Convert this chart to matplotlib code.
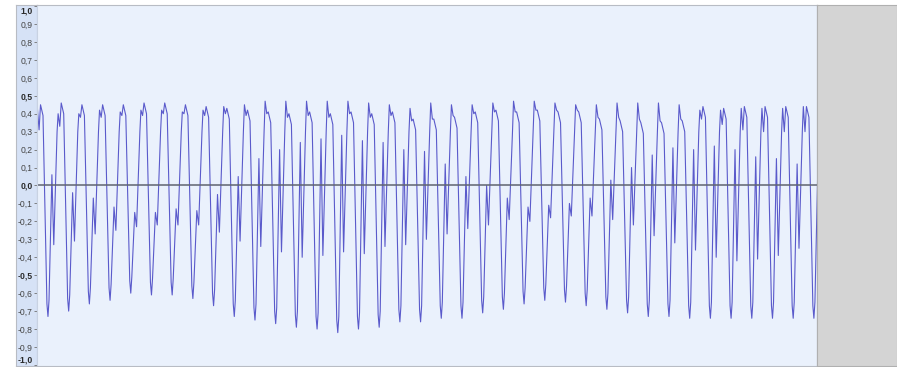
import numpy as np
import matplotlib
matplotlib.use("Agg")
import matplotlib.pyplot as plt
from matplotlib.ticker import FixedLocator, FuncFormatter

# per-cycle levels (one cycle ~ 20.7 px)
hump_a = [0.43, 0.40, 0.40, 0.42, 0.41, 0.42, 0.42, 0.41, 0.42, 0.44,
          0.45, 0.47, 0.47, 0.47, 0.47, 0.47, 0.46, 0.45, 0.43, 0.46,
          0.45, 0.45, 0.46, 0.47, 0.47, 0.46, 0.45, 0.45, 0.46, 0.46,
          0.46, 0.45, 0.42, 0.42, 0.43, 0.43, 0.43, 0.44]
notch = [0.31, 0.33, 0.38, 0.38, 0.39, 0.39, 0.40, 0.40, 0.39, 0.40,
         0.39, 0.40, 0.38, 0.39, 0.38, 0.40, 0.38, 0.39, 0.36, 0.37,
         0.39, 0.40, 0.41, 0.41, 0.42, 0.42, 0.42, 0.38, 0.38, 0.37,
         0.36, 0.37, 0.37, 0.34, 0.31, 0.30, 0.30, 0.30]
hump_b = [0.45, 0.46, 0.45, 0.45, 0.45, 0.46, 0.46, 0.45, 0.44, 0.43,
          0.42, 0.41, 0.40, 0.41, 0.40, 0.41, 0.40, 0.41, 0.37, 0.37,
          0.38, 0.41, 0.42, 0.41, 0.42, 0.41, 0.41, 0.37, 0.36, 0.35,
          0.35, 0.36, 0.44, 0.43, 0.44, 0.44, 0.44, 0.44]
troughs = [-0.73, -0.70, -0.66, -0.64, -0.60, -0.61, -0.61, -0.63, -0.67, -0.73,
           -0.75, -0.77, -0.79, -0.80, -0.82, -0.80, -0.79, -0.76, -0.76, -0.74,
           -0.74, -0.71, -0.69, -0.66, -0.64, -0.65, -0.67, -0.69, -0.71, -0.73,
           -0.73, -0.74, -0.74, -0.74, -0.74, -0.74, -0.74, -0.74]
bumps = [0.06, -0.04, -0.07, -0.12, -0.15, -0.15, -0.13, -0.14, -0.05, 0.05,
         0.15, 0.20, 0.24, 0.26, 0.28, 0.25, 0.24, 0.20, 0.19, 0.12,
         0.05, 0.00, -0.07, -0.12, -0.11, -0.10, -0.07, 0.03, 0.10, 0.17,
         0.21, 0.20, 0.22, 0.20, 0.16, 0.15, 0.12, 0.10]
dips = [-0.33, -0.31, -0.27, -0.25, -0.23, -0.22, -0.22, -0.22, -0.26, -0.31,
        -0.34, -0.37, -0.40, -0.39, -0.37, -0.38, -0.34, -0.33, -0.30, -0.27,
        -0.24, -0.22, -0.19, -0.20, -0.18, -0.17, -0.17, -0.19, -0.22, -0.28,
        -0.32, -0.36, -0.40, -0.42, -0.41, -0.39, -0.35, -0.33]

ticks = [1.0, 0.9, 0.8, 0.7, 0.6, 0.5, 0.4, 0.3, 0.2, 0.1, 0.0,
         -0.1, -0.2, -0.3, -0.4, -0.5, -0.6, -0.7, -0.8, -0.9, -1.0]

# shape of one cycle: where each level sits inside the period
phase = [0.00, 0.08, 0.15, 0.27, 0.46, 0.51, 0.56, 0.70, 0.79, 0.95]

t, y = [], []
for k in range(len(troughs)):
    lv = [hump_a[k], notch[k], hump_b[k], hump_b[k] - 0.06,
          troughs[k] + 0.07, troughs[k], troughs[k] + 0.09,
          bumps[k], dips[k], 0.30]
    for p, v in zip(phase, lv):
        t.append(k + p)
        y.append(v)

W, H = 897, 367
fig = plt.figure(figsize=(W / 100, H / 100), dpi=100, facecolor="white")

left, right, top, bot = 37, 817, 5, 366
ax = fig.add_axes([left / W, 1 - bot / H, (right - left) / W, (bot - top) / H])
ax.set_facecolor("#eaf1fc")
ax.plot(t, y, color="#5a5acb", lw=0.8)
ax.axhline(0.0, color="#5f6470", lw=1.1)
ax.set_xlim(-0.02, 37.66)
ax.set_ylim(-1.006, 1.006)
ax.set_xticks([])
ax.yaxis.set_major_locator(FixedLocator(ticks))
ax.yaxis.set_major_formatter(FuncFormatter(lambda v, pos: f"{v:.1f}".replace(".", ",")))
ax.tick_params(axis="y", direction="out", length=2.5, width=0.6, colors="#707070",
               pad=0.5, labelsize=6.2, labelcolor="#444444")
for lab, v in zip(ax.get_yticklabels(), ticks):
    lab.set_family("Liberation Sans")
    if round(v * 10) % 5 == 0:
        lab.set_fontweight("bold")
        lab.set_color("#2a2a2a")
    if v == 1.0:
        lab.set_verticalalignment("top")
    if v == -1.0:
        lab.set_verticalalignment("bottom")
for s in ["top", "bottom"]:
    ax.spines[s].set_color("#b8bcc4")
ax.spines["left"].set_color("#c8d2e2")
ax.spines["right"].set_color("#8a8a8a")

# ruler strip behind the labels
ruler = fig.add_axes([16 / W, 1 - bot / H, (left - 16) / W, (bot - top) / H], zorder=-1)
ruler.set_facecolor("#d6e2f6")
ruler.set_xticks([])
ruler.set_yticks([])
for s in ruler.spines.values():
    s.set_color("#b8bcc4")

# empty grey area right of the track
grey = fig.add_axes([right / W, 1 - bot / H, (W - right) / W, (bot - top) / H])
grey.set_facecolor("#d4d4d4")
grey.set_xticks([])
grey.set_yticks([])
for s in grey.spines.values():
    s.set_color("#b0b0b0")

fig.savefig("out.png", dpi=100, facecolor="white")
